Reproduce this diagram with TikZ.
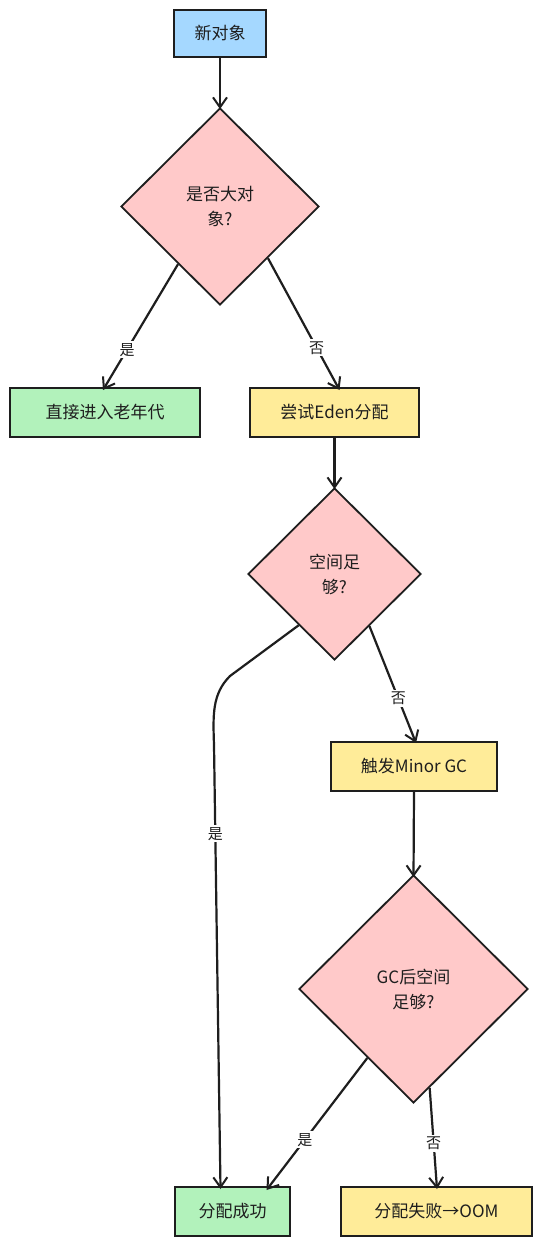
\documentclass[tikz,border=0pt]{standalone}
\usepackage{fontspec}
\setmainfont{Noto Sans CJK SC}
\usetikzlibrary{shapes.geometric,arrows.meta,calc}
\definecolor{cblue}{HTML}{A5D8FF}
\definecolor{cpink}{HTML}{FFC9C9}
\definecolor{cgreen}{HTML}{B2F2BB}
\definecolor{cyellow}{HTML}{FFEC99}
\definecolor{ink}{HTML}{1E1E1E}
\tikzset{
  boxnode/.style={draw=ink, line width=2pt, rectangle, inner sep=0pt, font=\fontsize{17}{21}\selectfont, text=ink},
  decnode/.style={draw=ink, line width=1.8pt, diamond, inner sep=0pt, align=center, font=\fontsize{17}{25}\selectfont, text=ink, fill=cpink},
  conn/.style={draw=ink, line width=2.2pt, -{Straight Barb[length=10pt,width=14pt,line width=2pt]}},
  lbl/.style={fill=white, inner sep=2pt, font=\fontsize{15}{17}\selectfont, text=ink}
}
\begin{document}
\begin{tikzpicture}[x=1pt,y=-1pt]
\useasboundingbox (0,0) rectangle (542,1246);
\fill[white] (0,0) rectangle (542,1246);
% nodes
\node[boxnode, fill=cblue, minimum width=92pt, minimum height=47pt] (start) at (220,33.5) {新对象};
\node[decnode, minimum width=198pt, minimum height=197pt] (d1) at (220,206.5) {是否大对\\象?};
\node[boxnode, fill=cgreen, minimum width=190pt, minimum height=49pt] (old) at (105,412.5) {直接进入老年代};
\node[boxnode, fill=cyellow, minimum width=169pt, minimum height=49pt] (eden) at (334.5,412.5) {尝试Eden分配};
\node[decnode, minimum width=173pt, minimum height=172pt] (d2) at (334.5,574) {空间足\\够?};
\node[boxnode, fill=cyellow, minimum width=166pt, minimum height=49pt] (minor) at (414,766.5) {触发Minor GC};
\node[decnode, minimum width=229pt, minimum height=228pt] (d3) at (413.5,989) {GC后空间\\足够?};
\node[boxnode, fill=cgreen, minimum width=115pt, minimum height=49pt] (ok) at (232.5,1211.5) {分配成功};
\node[boxnode, fill=cyellow, minimum width=191pt, minimum height=49pt] (oom) at (436.5,1211.5) {分配失败→OOM};
% connectors
\draw[conn] (start.south) -- ([yshift=-2pt]d1.north);
\draw[conn] ($(d1.west)!0.58!(d1.south)$) -- node[lbl, pos=0.68] {是} ([xshift=-2pt,yshift=-3pt]old.north);
\draw[conn] ($(d1.east)!0.52!(d1.south)$) -- node[lbl, pos=0.68] {否} ([xshift=5pt,yshift=-3pt]eden.north);
\draw[conn] (eden.south) -- ([yshift=-2pt]d2.north);
\draw[conn] ($(d2.east)!0.6!(d2.south)$) -- node[lbl, pos=0.62] {否} ([xshift=2pt,yshift=-2pt]minor.north);
\coordinate (bend1) at (230,676);
\coordinate (bend2) at (214,745);
\draw[conn] ($(d2.west)!0.59!(d2.south)$) -- (bend1) .. controls (212,694) and (213,715) .. (bend2) -- node[lbl, pos=0.2] {是} ([xshift=-12pt,yshift=-3pt]ok.north);
\draw[conn] (minor.south) -- ([yshift=-3pt]d3.north);
\draw[conn] ($(d3.west)!0.6!(d3.south)$) -- node[lbl, pos=0.62] {是} ([xshift=34pt,yshift=-4pt]ok.north);
\draw[conn] ($(d3.east)!0.86!(d3.south)$) -- node[lbl, pos=0.55] {否} ([xshift=0.5pt,yshift=-3pt]oom.north);
\end{tikzpicture}
\end{document}
